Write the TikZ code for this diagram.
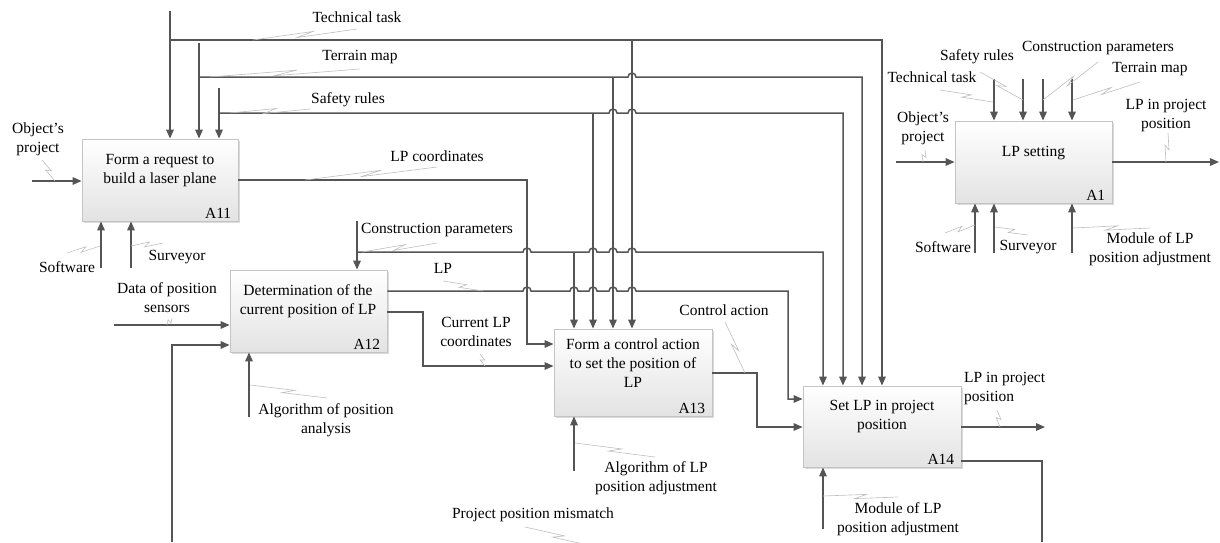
\documentclass[tikz,border=0pt]{standalone}
\usepackage{fontspec}
\setmainfont{Liberation Serif}
\usetikzlibrary{arrows.meta,calc,shadows}

\definecolor{wire}{HTML}{555555}
\definecolor{frame}{HTML}{C4C4C4}
\definecolor{squig}{HTML}{BEBEBE}

\tikzset{
  conn/.style={draw=wire, line width=1.5pt},
  arr/.style={conn, -{Triangle[length=9pt,width=7.5pt]}},
  box/.style={draw=frame, line width=0.8pt, top color=white, bottom color=black!11,
    drop shadow={shadow xshift=1.5pt, shadow yshift=-1.5pt, fill=black!35, opacity=0.4},
    inner sep=0pt},
  lbl/.style={font=\fontsize{15.5}{19}\selectfont, align=center, inner sep=0pt},
  num/.style={font=\fontsize{15.5}{19}\selectfont, anchor=south east, inner xsep=7pt, inner ysep=3pt},
  squigline/.style={draw=squig, line width=0.6pt},
}

% a small upward hop where a horizontal line crosses a vertical one
\newcommand\hop[2]{-- ({#1-4},#2) arc[start angle=180,end angle=0,radius=4pt]}
% IDEF0 squiggle joining a label to its arrow
\newcommand\squig[2]{\draw[squigline] (#1) -- ($(#1)!0.58!(#2)!2.2pt!90:(#2)$) -- ($(#1)!0.42!(#2)!2.2pt!-90:(#2)$) -- (#2);}

\begin{document}
\begin{tikzpicture}[x=1pt,y=-1pt]
\useasboundingbox (0,0) rectangle (1220,542);
\clip (0,0) rectangle (1220,542);

% ---------- activity boxes ----------
\node[box, minimum width=156pt, minimum height=82pt] (A11) at (160,180) {};
\node[box, minimum width=157pt, minimum height=82pt] (A12) at (308.5,311) {};
\node[box, minimum width=158pt, minimum height=87pt] (A13) at (633,372.5) {};
\node[box, minimum width=158pt, minimum height=81pt] (A14) at (882,426.5) {};
\node[box, minimum width=157pt, minimum height=82pt] (A1) at (1033.5,162) {};

\node[lbl] (A11t) at (160,171) {Form a request to\\build a laser plane};
\node[lbl] (A12t) at (308,301.5) {Determination of the\\current position of LP};
\node[lbl] (A13t) at (633,363) {Form a control action\\to set the position of\\LP};
\node[lbl] (A14t) at (882,416.5) {Set LP in project\\position};
\node[lbl] (A1t) at (1033.5,153) {LP setting};

\node[num] (A11n) at (A11.south east) {A11};
\node[num] (A12n) at (A12.south east) {A12};
\node[num] (A13n) at (A13.south east) {A13};
\node[num] (A14n) at (A14.south east) {A14};
\node[num] (A1n) at (A1.south east) {A1};

% ---------- free ends and junctions ----------
\coordinate (ttS) at (170,11);
\coordinate (ttJ) at (170,40);
\coordinate (tmS) at (199,43);
\coordinate (tmJ) at (199,77);
\coordinate (srS) at (219,88);
\coordinate (srJ) at (219,113);
\coordinate (cpS) at (357,221);
\coordinate (cpJ) at (357,252);
\coordinate (opS) at (32,181);
\coordinate (dpS) at (114,325);
\coordinate (swS) at (101,268);
\coordinate (svS) at (131,268);
\coordinate (apS) at (249,417);
\coordinate (alS) at (574,471);
\coordinate (mdS) at (823,529);
\coordinate (fbA) at (1042,542);
\coordinate (fbB) at (172,542);
\coordinate (outE) at (1045,427);

% ---------- controls ----------
% Technical task
\draw[arr] (ttS) -- (ttS |- A11.north);
\draw[arr] (ttJ) -- (882,40) -- (882,40 |- A14.north);
\draw[arr] (632,40) -- (632,40 |- A13.north);
% Terrain map
\draw[arr] (tmS) -- (tmS |- A11.north);
\draw[arr] (tmJ) \hop{632}{77} -- (862,77) -- (862,77 |- A14.north);
\draw[arr] (613,77) -- (613,77 |- A13.north);
% Safety rules
\draw[arr] (srS) -- (srS |- A11.north);
\draw[arr] (srJ) \hop{613}{113} \hop{632}{113} -- (843,113) -- (843,113 |- A14.north);
\draw[arr] (593,113) -- (593,113 |- A13.north);
% Construction parameters
\draw[arr] (cpS) -- (cpS |- A12.north);
\draw[arr] (cpJ) \hop{527}{252} \hop{593}{252} \hop{613}{252} \hop{632}{252} -- (823,252) -- (823,252 |- A14.north);
\draw[arr] (574,252) -- (574,252 |- A13.north);

% ---------- flows between activities ----------
\draw[arr] (A11.east) -- (527,180) -- (527,344) -- (A13.west |- 0,344);
\draw[arr] (A12.east |- 0,291) \hop{527}{291} \hop{574}{291} \hop{593}{291} \hop{613}{291} \hop{632}{291}
  -- (788,291) -- (788,399) -- (A14.west |- 0,399);
\draw[arr] (A12.east |- 0,312) -- (423,312) -- (423,366) -- (A13.west |- 0,366);
\draw[arr] (A13.east |- 0,373) -- (757,373) -- (757,427) -- (A14.west |- 0,427);
\draw[arr] (A14.east |- 0,427) -- (outE);
% feedback: project position mismatch
\draw[conn] (A14.east |- 0,461) -- (1042,461) -- (fbA);
\draw[arr] (fbB) -- (172,345) -- (A12.west |- 0,345);

% ---------- inputs ----------
\draw[arr] (opS) -- (opS -| A11.west);
\draw[arr] (dpS) -- (dpS -| A12.west);

% ---------- mechanisms ----------
\draw[arr] (swS) -- (swS |- A11.south);
\draw[arr] (svS) -- (svS |- A11.south);
\draw[arr] (apS) -- (apS |- A12.south);
\draw[arr] (alS) -- (alS |- A13.south);
\draw[arr] (mdS) -- (mdS |- A14.south);

% ---------- context activity A1 ----------
\coordinate (a1in) at (896,162);
\coordinate (a1out) at (1219,162);
\coordinate (a1c1) at (994,79);
\coordinate (a1c2) at (1023,79);
\coordinate (a1c3) at (1043,79);
\coordinate (a1c4) at (1072,79);
\coordinate (a1m1) at (975,253);
\coordinate (a1m2) at (994,253);
\coordinate (a1m3) at (1072,253);
\draw[arr] (a1in) -- (a1in -| A1.west);
\draw[arr] (A1.east) -- (a1out);
\foreach \c in {a1c1,a1c2,a1c3,a1c4} \draw[arr] (\c) -- (\c |- A1.north);
\foreach \m in {a1m1,a1m2,a1m3} \draw[arr] (\m) -- (\m |- A1.south);

% ---------- labels ----------
\node[lbl] (lTech) at (357,17) {Technical task};
\node[lbl] (lTerr) at (360,57) {Terrain map};
\node[lbl] (lSafe) at (348,100) {Safety rules};
\node[lbl] (lObj) at (38,139) {Object’s\\project};
\node[lbl] (lLPc) at (437,156) {LP coordinates};
\node[lbl] (lSoft) at (67,267) {Software};
\node[lbl] (lSurv) at (177,257) {Surveyor};
\node[lbl] (lCons) at (437,230) {Construction parameters};
\node[lbl] (lLP) at (443,268) {LP};
\node[lbl] (lData) at (167,298) {Data of position\\sensors};
\node[lbl] (lCur) at (476,332) {Current LP\\coordinates};
\node[lbl] (lCtrl) at (724,310) {Control action};
\node[lbl] (lAlgA) at (326,420) {Algorithm of position\\analysis};
\node[lbl] (lAlgB) at (656,478) {Algorithm of LP\\position adjustment};
\node[lbl] (lMis) at (533,515) {Project position mismatch};
\node[lbl, anchor=west, align=left] (lOut) at (964,388.5) {LP in project\\position};
\node[lbl] (lMod) at (898,519.5) {Module of LP\\position adjustment};

\node[lbl] (bSafe) at (977,57) {Safety rules};
\node[lbl] (bCons) at (1098,48) {Construction parameters};
\node[lbl] (bTech) at (932,77) {Technical task};
\node[lbl] (bTerr) at (1150,69) {Terrain map};
\node[lbl] (bObj) at (923,128.5) {Object’s\\project};
\node[lbl] (bOut) at (1166,116) {LP in project\\position};
\node[lbl] (bSoft) at (943,247) {Software};
\node[lbl] (bSurv) at (1028,247) {Surveyor};
\node[lbl] (bMod) at (1150,249.5) {Module of LP\\position adjustment};

% ---------- squiggles ----------
\squig{357,29}{253,40}
\squig{360,69}{210,77}
\squig{310,109}{230,113}
\squig{42,160}{55,181}
\squig{437,167}{305,180}
\squig{67,253}{100,246}
\squig{163,243}{131,246}
\squig{437,243}{362,252}
\squig{443,281}{483,291}
\squig{172,318}{167,325}
\squig{480,354}{485,366}
\squig{725,322}{745,373}
\squig{327,398}{250,385}
\squig{655,457}{575,443}
\squig{525,527}{592,546}
\squig{997,410}{1000,427}
\squig{898,497}{823,496}

\squig{940,90}{993,102}
\squig{980,72}{1023,100}
\squig{1098,62}{1043,100}
\squig{1140,82}{1073,100}
\squig{925,150}{923,162}
\squig{1168,133}{1166,162}
\squig{945,233}{975,225}
\squig{1028,235}{995,227}
\squig{1150,228}{1073,228}
\end{tikzpicture}
\end{document}
